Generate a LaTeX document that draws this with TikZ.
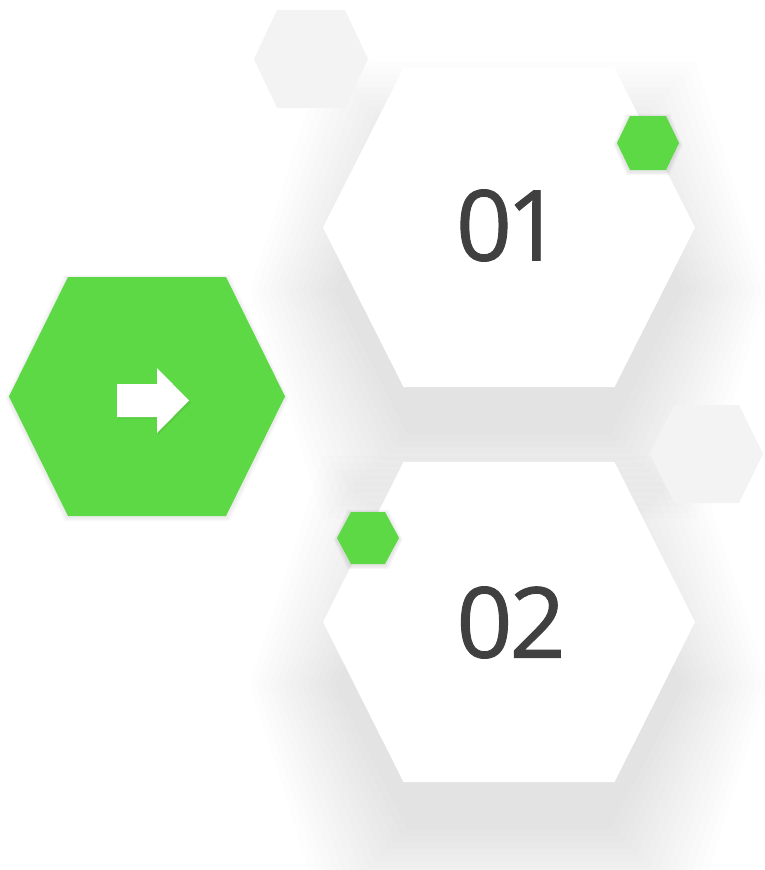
\documentclass[tikz,border=0pt]{standalone}
\usepackage{fontspec}
\setmainfont{Open Sans}
\newfontfamily\numfont{Open Sans}[FakeBold=0.9]
\definecolor{hexgreen}{HTML}{5DD946}
\definecolor{hexgray}{HTML}{F3F3F3}
\definecolor{numtext}{HTML}{404040}
\newcommand{\hexshape}[5]{({#1-(#3)},#2) -- ({#1-(#4)},{#2-(#5)}) -- ({#1+(#4)},{#2-(#5)}) -- ({#1+(#3)},#2) -- ({#1+(#4)},{#2+(#5)}) -- ({#1-(#4)},{#2+(#5)}) -- cycle}
\tikzset{
  greyhex/.style={fill=hexgray},
  whitehex/.style={fill=white},
  greenhex/.style={fill=hexgreen},
  shadowlayer/.style={fill=black, fill opacity=0.0065},
  numlabel/.style={inner sep=0pt, text=numtext, font=\numfont\fontsize{98}{98}\selectfont},
}
\begin{document}
\begin{tikzpicture}[x=1pt,y=-1pt]
\useasboundingbox (0,0) rectangle (764,870);
\fill[white] (0,0) rectangle (764,870);
% soft shadows of the large white hexagons
\foreach \k in {1,...,14}{
  \pgfmathsetmacro{\d}{\k*6.5}
  \fill[shadowlayer] \hexshape{509}{290}{168+\d}{95+\d}{138+\d};
  \fill[shadowlayer] \hexshape{509}{685}{168+\d}{95+\d}{138+\d};
}
% light grey hexagons
\fill[greyhex] \hexshape{311}{59}{57}{34}{49};
\fill[greyhex] \hexshape{706.5}{454}{56.5}{32.5}{49};
% white hexagons
\fill[whitehex] \hexshape{509}{227.5}{186}{105.5}{159.5};
\fill[whitehex] \hexshape{509}{622}{186}{105.5}{160};
% green hexagons (with faint shadow)
\foreach \k in {1,...,3}{
  \pgfmathsetmacro{\d}{\k*1.2}
  \fill[black, fill opacity=0.025] \hexshape{147}{398}{138+\d}{79+\d}{119.5+\d};
  \fill[black, fill opacity=0.03] \hexshape{648}{144.5}{31+\d}{18+\d}{27+\d};
  \fill[black, fill opacity=0.03] \hexshape{368}{539.5}{31+\d}{17+\d}{26+\d};
}
\fill[greenhex] \hexshape{147}{396.5}{138}{79}{119.5};
\fill[greenhex] \hexshape{648}{143}{31}{18}{27};
\fill[greenhex] \hexshape{368}{538}{31}{17}{26};
% arrow
\fill[black, fill opacity=0.06] (118,386) -- (158,386) -- (158,370) -- (191,402.5) -- (158,435) -- (158,419) -- (118,419) -- cycle;
\fill[white] (117,384) -- (157,384) -- (157,368) -- (189,400.5) -- (157,433) -- (157,417) -- (117,417) -- cycle;
% numbers
\node[numlabel] (n1) at (509,225.5) {0\kern-6pt1};
\node[numlabel] (n2) at (511,622.5) {0\kern-3pt2};
\end{tikzpicture}
\end{document}
